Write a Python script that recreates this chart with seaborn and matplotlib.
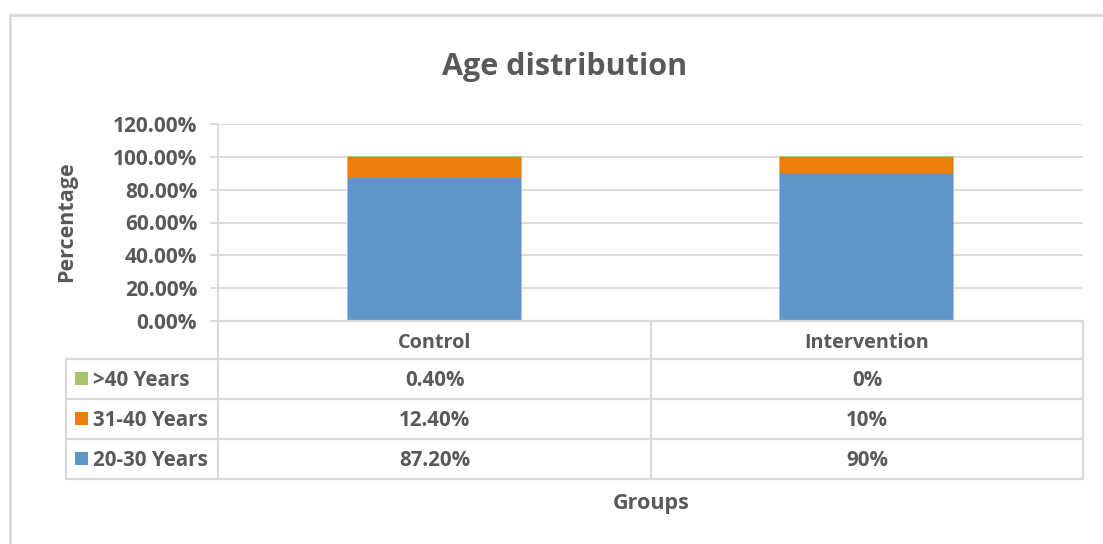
import matplotlib
matplotlib.use("Agg")
import matplotlib.pyplot as plt
from matplotlib.lines import Line2D
from matplotlib.patches import Rectangle
import numpy as np
import pandas as pd
import seaborn as sns

# Data
groups = ["Control", "Intervention"]
series = ["20-30 Years", "31-40 Years", ">40 Years"]
age_20_30 = [87.2, 90.0]
age_31_40 = [12.4, 10.0]
age_over_40 = [0.4, 0.0]
table_text = {
    ">40 Years": ["0.40%", "0%"],
    "31-40 Years": ["12.40%", "10%"],
    "20-30 Years": ["87.20%", "90%"],
}
colors = {"20-30 Years": "#5F96C9", "31-40 Years": "#EC7F0A", ">40 Years": "#A6C46E"}

sns.set_theme(style="white")
plt.rcParams["font.family"] = ["Open Sans", "DejaVu Sans"]
TXT = "#595959"
GRID = "#D9D9D9"

W, H = 1103, 544
fig = plt.figure(figsize=(W / 100, H / 100), dpi=100)

def fx(px):
    return px / W

def fy(py):
    return 1 - py / H

left, right, top, bottom = 218, 1083, 124, 321
ax = fig.add_axes([fx(left), fy(bottom), fx(right) - fx(left), fy(top) - fy(bottom)])

# Stacked bars: draw cumulative totals from the top layer down
values = {"20-30 Years": age_20_30, "31-40 Years": age_31_40, ">40 Years": age_over_40}
cum = np.zeros(len(groups))
cums = {}
for s in series:
    cum = cum + np.array(values[s])
    cums[s] = cum.copy()
for s in reversed(series):
    df = pd.DataFrame({"group": groups, "value": cums[s]})
    lw = 1.2 if s == ">40 Years" else 0
    sns.barplot(data=df, x="group", y="value", color=colors[s], saturation=1,
                width=0.4, ax=ax, zorder=3, linewidth=lw, edgecolor=colors[s])

ax.set_ylim(0, 120)
ax.set_xlim(-0.5, 1.5)
ax.set_yticks(np.arange(0, 121, 20))
ax.set_yticklabels([f"{v:.2f}%" for v in np.arange(0, 121, 20)],
                   fontsize=15, fontweight="bold", color=TXT)
ax.set_xticks([])
ax.set_xlabel("")
ax.set_ylabel("")
ax.yaxis.grid(True, color=GRID, linewidth=1.3, zorder=0)
ax.set_axisbelow(True)
for sp in ["top", "right", "bottom"]:
    ax.spines[sp].set_visible(False)
ax.spines["left"].set_color(GRID)
ax.spines["left"].set_linewidth(1.3)
ax.tick_params(axis="y", left=True, length=6, width=1.3, color=GRID, pad=9)

# Title and axis titles
fig.text(fx(565), fy(67), "Age distribution", ha="center", va="center",
         fontsize=22, fontweight="bold", color=TXT)
fig.text(fx(67), fy(222), "Percentage", ha="center", va="center", rotation=90,
         fontsize=15.5, fontweight="bold", color=TXT)
fig.text(fx(651), fy(504), "Groups", ha="center", va="center",
         fontsize=15.5, fontweight="bold", color=TXT)

# Data table below the plot
def hline(x0, x1, y):
    fig.add_artist(Line2D([fx(x0), fx(x1)], [fy(y), fy(y)], color=GRID, lw=1.6,
                          transform=fig.transFigure))

def vline(x, y0, y1):
    fig.add_artist(Line2D([fx(x), fx(x)], [fy(y0), fy(y1)], color=GRID, lw=1.6,
                          transform=fig.transFigure))

col_x = [218, 651, 1083]
row_y = [321, 359, 399, 439, 479]
hline(218, 1083, 321)
for y in row_y[1:]:
    hline(66, 1083, y)
vline(66, 359, 479)
for x in col_x:
    vline(x, 321, 479)

col_centers = [(col_x[0] + col_x[1]) / 2, (col_x[1] + col_x[2]) / 2]
for g, cx in zip(groups, col_centers):
    fig.text(fx(cx), fy(343), g, ha="center", va="center",
             fontsize=14.3, fontweight="bold", color=TXT)

for i, s in enumerate([">40 Years", "31-40 Years", "20-30 Years"]):
    yc = (row_y[i + 1] + row_y[i + 2]) / 2
    fig.add_artist(Rectangle((fx(75), fy(yc + 5.5)), fx(13), 13 / H,
                             facecolor=colors[s], edgecolor="none",
                             transform=fig.transFigure))
    fig.text(fx(93), fy(yc + 2), s, ha="left", va="center",
             fontsize=14.8, fontweight="bold", color=TXT)
    for txt, cx in zip(table_text[s], col_centers):
        fig.text(fx(cx), fy(yc + 2), txt, ha="center", va="center",
                 fontsize=14.8, fontweight="bold", color=TXT)

# Outer chart frame
fig.add_artist(Line2D([fx(10), fx(1103)], [fy(15), fy(15)], color=GRID, lw=2,
                      transform=fig.transFigure))
fig.add_artist(Line2D([fx(10), fx(10)], [fy(15), fy(544)], color=GRID, lw=2,
                      transform=fig.transFigure))

fig.savefig("out.png", dpi=100, facecolor="white")
